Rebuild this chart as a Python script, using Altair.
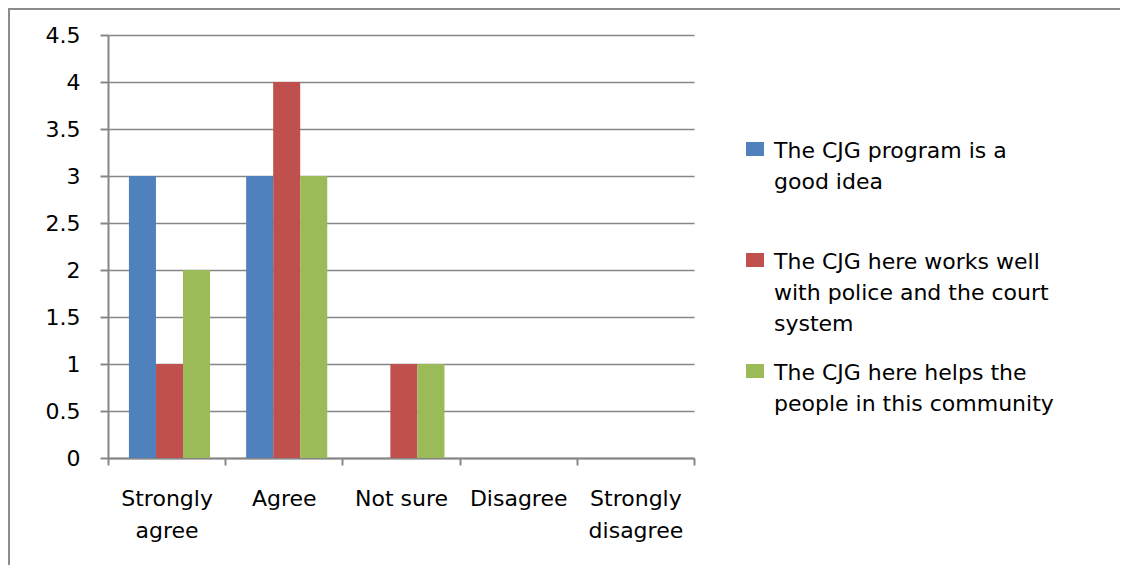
import altair as alt
import pandas as pd

categories = ["Strongly agree", "Agree", "Not sure", "Disagree", "Strongly disagree"]
category_lines = [["Strongly", "agree"], ["Agree"], ["Not sure"], ["Disagree"], ["Strongly", "disagree"]]
series = [
    "The CJG program is a good idea",
    "The CJG here works well with police and the court system",
    "The CJG here helps the people in this community",
]
values_good_idea = [3, 3, 0, 0, 0]
values_works_well = [1, 4, 1, 0, 0]
values_helps = [2, 3, 1, 0, 0]
colors = ["#4F81BD", "#C0504D", "#9BBB59"]
y_ticks = [0, 0.5, 1, 1.5, 2, 2.5, 3, 3.5, 4, 4.5]
legend_lines = [
    ["The CJG program is a", "good idea", ""],
    ["The CJG here works well", "with police and the court", "system"],
    ["The CJG here helps the", "people in this community"],
]

rows = []
for s, vals in zip(series, [values_good_idea, values_works_well, values_helps]):
    for c, v in zip(categories, vals):
        rows.append({"category": c, "series": s, "amount": v})
df = pd.DataFrame(rows)

FONT = "DejaVu Sans"
FS = 22
GRID = "#868686"


def lines_expr(field, keys, line_lists):
    expr = ""
    for k, lines in zip(keys, line_lists):
        arr = "[" + ",".join("'" + l + "'" for l in lines) + "]"
        expr += f"{field} == '{k}' ? {arr} : "
    return expr + field


bars = alt.Chart(df).mark_bar().encode(
    x=alt.X(
        "category:N",
        sort=categories,
        scale=alt.Scale(paddingInner=0, paddingOuter=0),
        axis=alt.Axis(
            title=None,
            labelAngle=0,
            tickBand="extent",
            labelExpr=lines_expr("datum.value", categories, category_lines),
            labelFont=FONT,
            labelFontSize=FS,
            labelColor="black",
            labelLineHeight=32,
            labelPadding=23,
            labelBaseline="top",
            tickSize=7,
            tickColor=GRID,
            tickWidth=2,
            domainColor=GRID,
            domainWidth=2,
            grid=False,
        ),
    ),
    xOffset=alt.XOffset(
        "series:N",
        sort=series,
        scale=alt.Scale(paddingOuter=0.667, paddingInner=0, align=0.58),
    ),
    y=alt.Y(
        "amount:Q",
        scale=alt.Scale(domain=[0, 4.5], nice=False),
        axis=alt.Axis(
            title=None,
            values=y_ticks,
            format="~g",
            labelFont=FONT,
            labelFontSize=FS,
            labelColor="black",
            labelPadding=20,
            tickSize=8,
            tickColor=GRID,
            tickWidth=2,
            domainColor=GRID,
            domainWidth=2,
            grid=True,
            gridColor=GRID,
            gridWidth=1.5,
        ),
    ),
    color=alt.Color(
        "series:N",
        sort=series,
        scale=alt.Scale(domain=series, range=colors),
        legend=alt.Legend(
            title=None,
            orient="none",
            legendX=636,
            legendY=95,
            symbolType="M-0.9,0.1H0.9V1.5H-0.9Z",
            symbolSize=400,
            symbolStrokeWidth=0,
            symbolOpacity=1,
            labelFont=FONT,
            labelFontSize=FS,
            labelColor="black",
            labelLimit=500,
            labelOffset=8,
            labelBaseline="top",
            rowPadding=17,
            padding=0,
            labelExpr=lines_expr("datum.label", series, legend_lines),
        ),
    ),
)

frame = alt.Chart(alt.Data(values=[{"a": 1}])).mark_rect(
    fillOpacity=0, stroke="#8c8c8c", strokeWidth=2, clip=False
).encode(
    x=alt.value(-99), x2=alt.value(1300), y=alt.value(-26), y2=alt.value(800)
)

chart = alt.layer(bars, frame).properties(
    width=586,
    height=423,
    autosize=alt.AutoSizeParams(type="none"),
    padding={"left": 100, "top": 27, "right": 426, "bottom": 107},
).configure(
    view=alt.ViewConfig(strokeWidth=0),
    style={"guide-label": {"lineHeight": 31}},
)

chart.save("out.html", embed_options={"renderer": "svg", "actions": False})
